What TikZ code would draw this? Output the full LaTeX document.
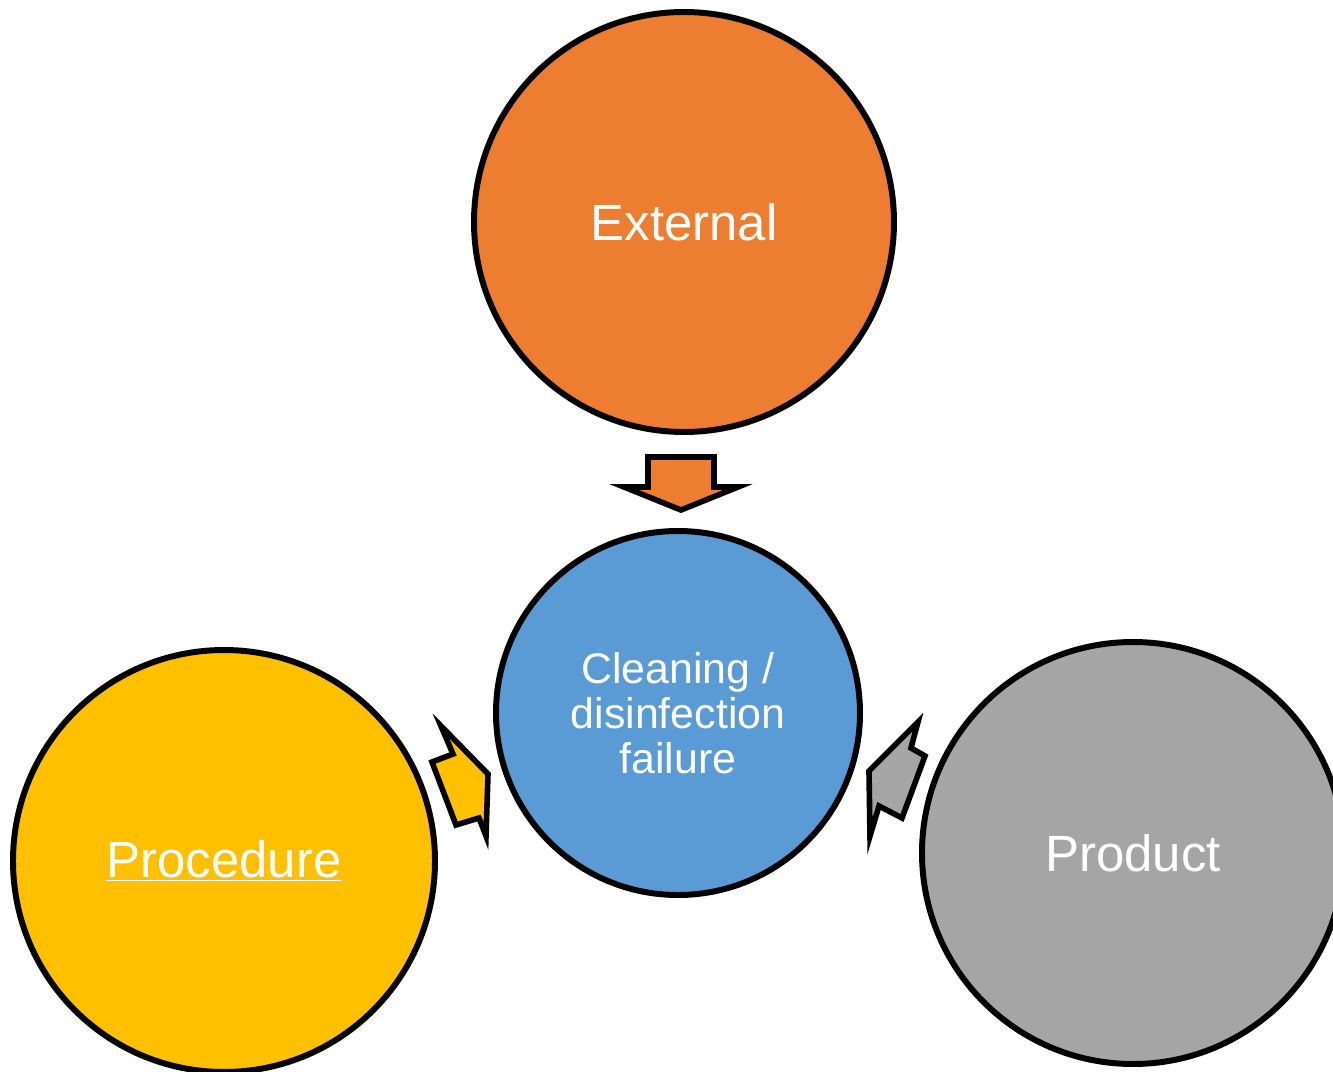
\documentclass[tikz,border=0pt]{standalone}
\usepackage{fontspec}
\setmainfont{Liberation Sans}
\definecolor{corange}{HTML}{ED7D31}
\definecolor{cblue}{HTML}{5B9BD5}
\definecolor{cyellow}{HTML}{FFC000}
\definecolor{cgray}{HTML}{A5A5A5}
\tikzset{
  bubble/.style={circle, draw=black, line width=3.4pt, inner sep=0pt, text=white, align=center},
  bigtxt/.style={font=\fontsize{29}{34}\selectfont},
  smalltxt/.style={font=\fontsize{24.4}{25.5}\selectfont},
  blockarrow/.style={draw=black, line width=3.2pt, line join=miter},
}
\begin{document}
\begin{tikzpicture}[x=0.02cm, y=-0.02cm]
\useasboundingbox (0,0) rectangle (1333,1072);
\clip (0,0) rectangle (1333,1072);
\node[bubble, fill=corange, minimum size=420*0.02cm, bigtxt] (ext) at (684,222) {External};
\node[bubble, fill=cblue, minimum size=364*0.02cm, smalltxt] (ctr) at (678,713) {Cleaning /\\disinfection\\failure};
\node[bubble, fill=cyellow, minimum size=422*0.02cm, bigtxt] (proc) at (224,861) {\underline{Procedure}};
\node[bubble, fill=cgray, minimum size=422*0.02cm, bigtxt] (prod) at (1133,853) {Product};
% down arrow from External
\draw[blockarrow, fill=corange] (648,457) -- (714,457) -- (714,487) -- (738,487) -- (681,510) -- (624,487) -- (648,487) -- cycle;
% arrow from Procedure
\draw[blockarrow, fill=cyellow] (441,726) -- (488,774) -- (486,836) -- (479,818) -- (456,825) -- (432,762) -- (453,754) -- cycle;
% arrow from Product
\draw[blockarrow, fill=cgray] (918,722) -- (911,748) -- (925,756) -- (902,818) -- (879,806) -- (870,836) -- (869,771) -- cycle;
\end{tikzpicture}
\end{document}
